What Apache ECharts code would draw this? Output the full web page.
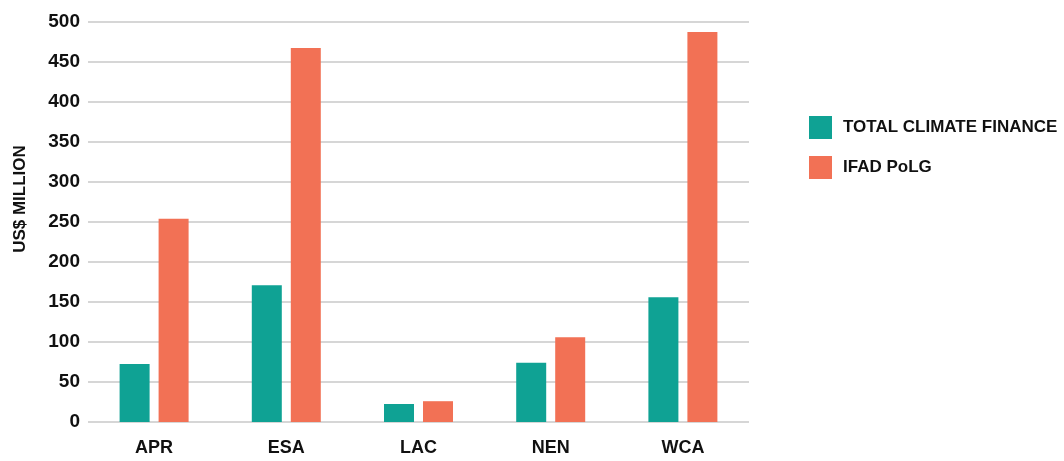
<!DOCTYPE html>
<html>
<head>
<meta charset="utf-8">
<script src="https://cdn.jsdelivr.net/npm/echarts@6/dist/echarts.min.js"></script>
<style>
  html, body { margin: 0; padding: 0; background: #fff; }
  #chart { width: 1064px; height: 461px; }
</style>
</head>
<body>
<div id="chart"></div>
<script>
  // regions
  const categories = ['APR', 'ESA', 'LAC', 'NEN', 'WCA']
  // US$ million
  const climateFinance = [72.5, 171, 22.5, 74, 156]
  const ifadPolg = [254, 467.5, 26, 106, 487.5]
  const yTicks = [0, 50, 100, 150, 200, 250, 300, 350, 400, 450, 500]

  const font = "'Liberation Sans Narrow', 'Liberation Sans', Arial, sans-serif"

  const myChart = echarts.init(document.getElementById('chart'))
  const option = {
    backgroundColor: '#fff',
    animation: false,
    textStyle: { fontFamily: font },
    grid: { left: 88, top: 22, width: 661, height: 400, containLabel: false },
    legend: {
      orient: 'vertical',
      left: 804,
      top: 111,
      itemWidth: 23,
      itemHeight: 23,
      itemGap: 17,
      icon: 'rect',
      textStyle: { fontFamily: font, fontWeight: 'bold', fontSize: 17, color: '#111', padding: [0, 0, 0, 6] },
      data: ['TOTAL CLIMATE FINANCE', 'IFAD PoLG']
    },
    xAxis: {
      type: 'category',
      data: categories,
      axisLine: { show: false },
      axisTick: { show: false },
      axisLabel: { margin: 17, fontFamily: font, fontWeight: 'bold', fontSize: 18, color: '#111' }
    },
    yAxis: {
      type: 'value',
      min: yTicks[0],
      max: yTicks[yTicks.length - 1],
      interval: 50,
      axisLine: { show: false },
      axisTick: { show: false },
      axisLabel: { margin: 8, fontFamily: font, fontWeight: 'bold', fontSize: 19, color: '#111' },
      splitLine: { lineStyle: { color: '#d6d6d6', width: 2 } }
    },
    graphic: [
      {
        type: 'text',
        rotation: Math.PI / 2,
        x: 20,
        y: 199,
        style: {
          text: 'US$ MILLION',
          fontFamily: font,
          fontWeight: 'bold',
          fontSize: 17,
          fill: '#111',
          textAlign: 'center',
          textVerticalAlign: 'middle'
        }
      }
    ],
    series: [
      {
        name: 'TOTAL CLIMATE FINANCE',
        type: 'bar',
        data: climateFinance,
        barWidth: 30,
        barGap: '30%',
        itemStyle: { color: '#0fa294' }
      },
      {
        name: 'IFAD PoLG',
        type: 'bar',
        data: ifadPolg,
        barWidth: 30,
        barGap: '30%',
        itemStyle: { color: '#f27155' }
      }
    ]
  }
  myChart.setOption(option)
</script>
</body>
</html>
